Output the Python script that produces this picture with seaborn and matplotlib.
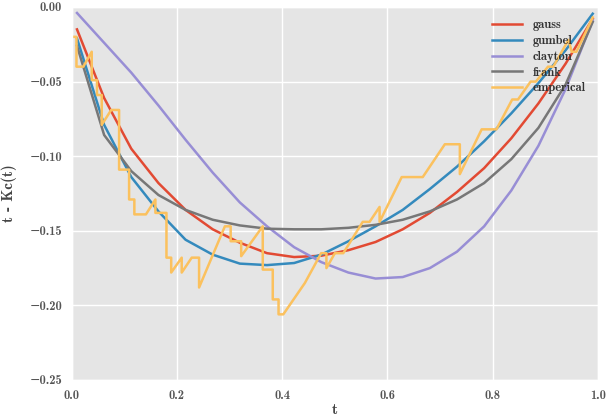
import matplotlib
matplotlib.use("Agg")
import matplotlib.pyplot as plt
import numpy as np
import pandas as pd
import seaborn as sns

# Evaluation grid for the copula curves
t = np.linspace(0.01, 0.99, 20)

gauss = [-0.015, -0.061, -0.095, -0.118, -0.136, -0.149, -0.158, -0.165, -0.1676, -0.1667,
         -0.163, -0.1575, -0.149, -0.138, -0.124, -0.108, -0.088, -0.0646, -0.038, -0.0078]
gumbel = [-0.021, -0.079, -0.114, -0.137, -0.156, -0.166, -0.172, -0.173, -0.1716, -0.166,
          -0.157, -0.147, -0.136, -0.122, -0.107, -0.090, -0.0713, -0.051, -0.029, -0.0045]
clayton = [-0.004, -0.024, -0.044, -0.066, -0.089, -0.111, -0.131, -0.147, -0.161, -0.171,
           -0.178, -0.182, -0.181, -0.175, -0.164, -0.147, -0.123, -0.093, -0.055, -0.009]
frank = [-0.026, -0.0858, -0.110, -0.126, -0.136, -0.1426, -0.1464, -0.1486, -0.149, -0.149,
         -0.148, -0.146, -0.1426, -0.137, -0.129, -0.118, -0.102, -0.081, -0.052, -0.010]

# Empirical t - Kc(t) path
emp_t = [0.000, 0.009, 0.009, 0.022, 0.038, 0.038, 0.048, 0.048, 0.057, 0.057,
         0.075, 0.090, 0.090, 0.109, 0.109, 0.119, 0.119, 0.141, 0.159, 0.159,
         0.180, 0.180, 0.189, 0.189, 0.209, 0.209, 0.228, 0.242, 0.242, 0.291,
         0.302, 0.302, 0.322, 0.322, 0.363, 0.363, 0.382, 0.382, 0.393, 0.393,
         0.402, 0.443, 0.474, 0.484, 0.484, 0.500, 0.516, 0.553, 0.566, 0.585,
         0.585, 0.627, 0.667, 0.709, 0.7375, 0.7375, 0.779, 0.807, 0.837, 0.848,
         0.872, 0.882, 0.905, 0.915, 0.944, 0.950, 0.959, 0.990]
emp_v = [-0.020, -0.020, -0.040, -0.040, -0.030, -0.049, -0.049, -0.059, -0.059, -0.079,
         -0.069, -0.069, -0.109, -0.109, -0.129, -0.129, -0.139, -0.139, -0.129, -0.138,
         -0.138, -0.168, -0.168, -0.178, -0.168, -0.178, -0.168, -0.168, -0.188, -0.147,
         -0.147, -0.157, -0.157, -0.167, -0.147, -0.176, -0.176, -0.196, -0.196, -0.206,
         -0.206, -0.185, -0.165, -0.165, -0.175, -0.165, -0.165, -0.144, -0.144, -0.134,
         -0.144, -0.114, -0.114, -0.092, -0.092, -0.112, -0.082, -0.082, -0.062, -0.062,
         -0.050, -0.050, -0.040, -0.040, -0.022, -0.030, -0.030, -0.007]

x_ticks = [0.0, 0.2, 0.4, 0.6, 0.8, 1.0]
y_ticks = [0.00, -0.05, -0.10, -0.15, -0.20, -0.25]

plt.style.use("ggplot")
plt.rcParams["font.family"] = ["cmb10", "DejaVu Serif"]
plt.rcParams["axes.formatter.use_mathtext"] = False

fig = plt.figure(figsize=(6.11, 4.19), dpi=100)
ax = fig.add_axes([0.1174, 0.0931, 0.8613, 0.8902])

series = [("gauss", gauss, "#E24A33"),
          ("gumbel", gumbel, "#348ABD"),
          ("clayton", clayton, "#988ED5"),
          ("frank", frank, "#777777")]
for name, vals, col in series:
    sns.lineplot(x=t, y=vals, ax=ax, color=col, linewidth=1.8, label=name,
                 estimator=None, sort=False)

sns.lineplot(x=emp_t, y=emp_v, ax=ax, color="#FBC15E", linewidth=1.8,
             label="emperical", estimator=None, sort=False)

ax.set_xlim(0, 1)
ax.set_ylim(-0.25, 0.0)
ax.set_xticks(x_ticks)
ax.set_xticklabels([f"{v:.1f}" for v in x_ticks])
ax.set_yticks(y_ticks)
ax.set_yticklabels([f"{v:.2f}".replace("-", "\u2212") for v in y_ticks])
ax.tick_params(length=0, labelsize=9, colors="#555555", pad=7)
ax.grid(True, color="white", linewidth=1.0)
ax.set_xlabel("t", fontsize=11, color="#444444", labelpad=1)
ax.set_ylabel("t - Kc(t)", fontsize=11, color="#444444", labelpad=9)

leg = ax.legend(loc="upper right", frameon=False, fontsize=9,
                handlelength=2.4, labelspacing=0.3, borderaxespad=0.6)
for txt in leg.get_texts():
    txt.set_color("#333333")

fig.savefig("out.png", dpi=100)
